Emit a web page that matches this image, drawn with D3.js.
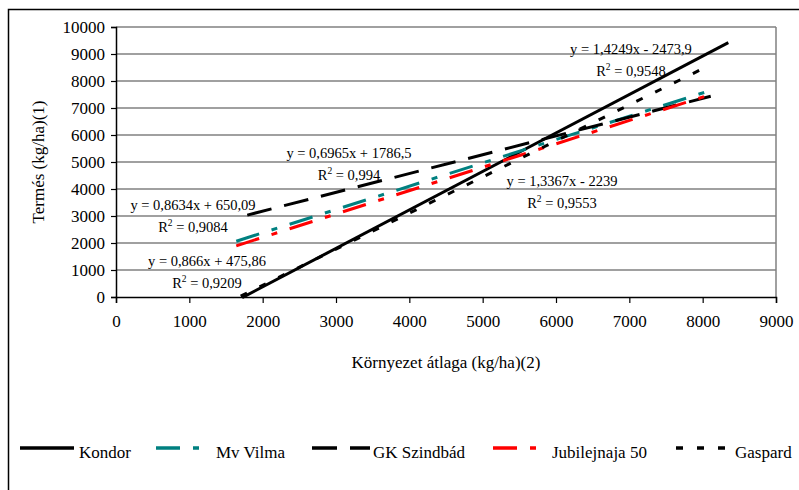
<!DOCTYPE html>
<html>
<head>
<meta charset="utf-8">
<script src="https://cdn.jsdelivr.net/npm/d3@7"></script>
<style>
  html, body { margin: 0; padding: 0; background: #fff; }
  svg { display: block; }
  svg text { font-family: "Times New Roman", "Liberation Serif", Tinos, "DejaVu Serif", serif !important; fill: #000; }
</style>
</head>
<body>
<svg id="chart" width="799" height="490"></svg>
<script>
// Regression lines: Termés vs. Környezet átlaga
const seriesNames = ["Kondor", "Mv Vilma", "GK Szindbád", "Jubilejnaja 50", "Gaspard"];
const slopes      = [1.4249, 0.8634, 0.6965, 0.866, 1.3367];
const intercepts  = [-2473.9, 650.09, 1786.5, 475.86, -2239];
const rSquared    = [0.9548, 0.9084, 0.994, 0.9209, 0.9553];
const xFrom       = [1720, 1640, 1790, 1640, 1700];
const xTo         = [8350, 8140, 8110, 8100, 8100];

const xTicks = [0, 1000, 2000, 3000, 4000, 5000, 6000, 7000, 8000, 9000];
const yTicks = [0, 1000, 2000, 3000, 4000, 5000, 6000, 7000, 8000, 9000, 10000];

const xTitle = "Környezet átlaga (kg/ha)(2)";
const yTitle = "Termés (kg/ha)(1)";

// line styles per series
const colors = ["#000000", "#008080", "#000000", "#ff0000", "#000000"];
const dashes = [null, "24,13,6,13", "25,13", "24,13,6,13", "7,14"];

// equation label anchors (pixel centre, baseline of first line)
const labelAnchors = [[631, 54], [193, 210], [349, 158], [207, 266], [562, 186]];
// legend placement
const legendSymbolX = [[20, 74], [156, 201], [312, 370], [493, 537], [676, 725]];
const legendTextX = [79, 216, 373, 552, 735];

const serif = '"Times New Roman", "Liberation Serif", Tinos, "DejaVu Serif", serif';

const svg = d3.select("#chart");
const plot = { left: 116, right: 776, top: 27, bottom: 297 };

const x = d3.scaleLinear().domain([0, 9000]).range([plot.left, plot.right]);
const y = d3.scaleLinear().domain([0, 10000]).range([plot.bottom, plot.top]);

// outer chart frame
svg.append("path")
  .attr("d", `M8.5,${495} L8.5,9.5 L${805},9.5`)
  .attr("fill", "none").attr("stroke", "#000").attr("stroke-width", 1.5);

// gridlines
svg.append("g").selectAll("line")
  .data(yTicks.filter(d => d > 0))
  .join("line")
  .attr("x1", plot.left).attr("x2", plot.right)
  .attr("y1", d => y(d)).attr("y2", d => y(d))
  .attr("stroke", "#808080").attr("stroke-width", 1.5);

// plot area right border
svg.append("line")
  .attr("x1", plot.right).attr("x2", plot.right)
  .attr("y1", plot.top).attr("y2", plot.bottom)
  .attr("stroke", "#808080").attr("stroke-width", 1.5);

// axes
const yAxis = d3.axisLeft(y).tickValues(yTicks).tickSize(5).tickPadding(6).tickFormat(d3.format("d"));
const xAxis = d3.axisBottom(x).tickValues(xTicks).tickSize(6).tickPadding(12).tickFormat(d3.format("d"));

const gy = svg.append("g").attr("transform", `translate(${plot.left},0)`).call(yAxis);
const gx = svg.append("g").attr("transform", `translate(0,${plot.bottom})`).call(xAxis);
[gx, gy].forEach(g => {
  g.attr("font-family", serif).attr("font-size", 17);
  g.select(".domain").attr("stroke", "#000").attr("stroke-width", 1.5);
  g.selectAll(".tick line").attr("stroke", "#000").attr("stroke-width", 1.2);
  g.selectAll(".tick text").attr("fill", "#000");
});
gy.selectAll(".tick text").attr("dy", "0.34em");

// axis titles
svg.append("text")
  .attr("x", (plot.left + plot.right) / 2).attr("y", 368)
  .attr("text-anchor", "middle").attr("font-size", 17)
  .text(xTitle);
svg.append("text")
  .attr("transform", `translate(44,${(plot.top + plot.bottom) / 2}) rotate(-90)`)
  .attr("text-anchor", "middle").attr("font-size", 17)
  .text(yTitle);

// trend lines
const line = d3.line().x(d => x(d[0])).y(d => y(d[1]));
const lines = svg.append("g");
seriesNames.forEach((name, i) => {
  const pts = [xFrom[i], xTo[i]].map(v => [v, slopes[i] * v + intercepts[i]]);
  lines.append("path")
    .attr("d", line(pts))
    .attr("fill", "none")
    .attr("stroke", colors[i])
    .attr("stroke-width", 3)
    .attr("stroke-dasharray", dashes[i]);
});

// equation labels
const dec = v => String(v).replace(".", ",");
const eqText = i => {
  const b = intercepts[i];
  return `y = ${dec(slopes[i])}x ${b < 0 ? "-" : "+"} ${dec(Math.abs(b))}`;
};
const labels = svg.append("g");
seriesNames.forEach((name, i) => {
  const [cx, by] = labelAnchors[i];
  labels.append("text")
    .attr("x", cx).attr("y", by)
    .attr("text-anchor", "middle").attr("font-size", 14.5)
    .text(eqText(i));
  const r = labels.append("text")
    .attr("x", cx).attr("y", by + 22)
    .attr("text-anchor", "middle").attr("font-size", 14.5);
  r.append("tspan").text("R");
  r.append("tspan").attr("dy", -6).attr("font-size", 9.5).text("2");
  r.append("tspan").attr("dy", 6).text(` = ${dec(rSquared[i])}`);
});

// legend
const legend = svg.append("g");
seriesNames.forEach((name, i) => {
  legend.append("line")
    .attr("x1", legendSymbolX[i][0]).attr("x2", legendSymbolX[i][1])
    .attr("y1", 448).attr("y2", 448)
    .attr("stroke", colors[i]).attr("stroke-width", 3.5)
    .attr("stroke-dasharray", dashes[i]);
  legend.append("text")
    .attr("x", legendTextX[i]).attr("y", 458)
    .attr("font-size", 17)
    .text(name);
});
</script>
</body>
</html>
